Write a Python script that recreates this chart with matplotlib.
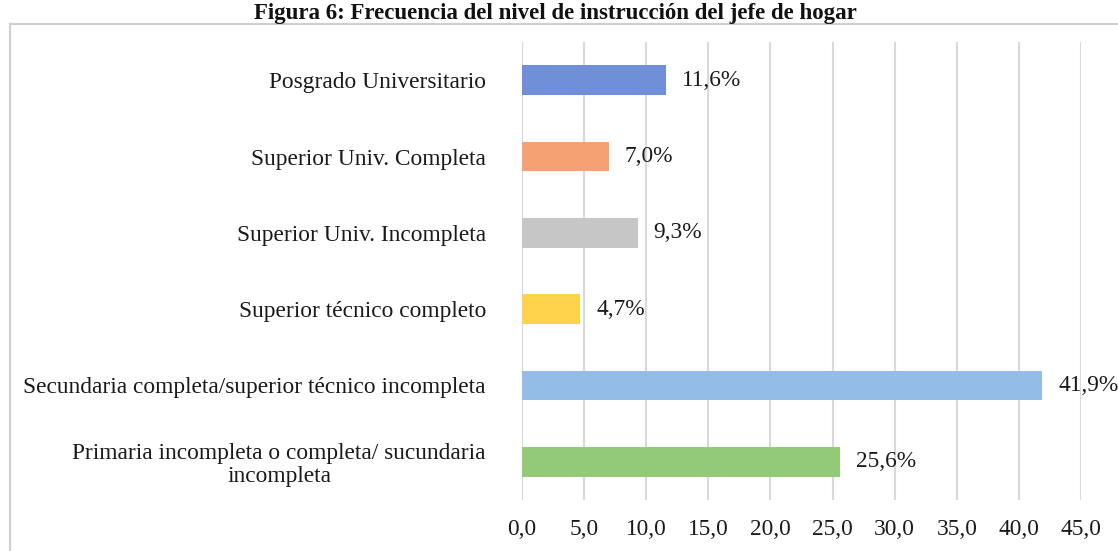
import matplotlib
matplotlib.use("Agg")
import matplotlib.pyplot as plt
from matplotlib.patches import Rectangle

categories = [
    "Posgrado Universitario",
    "Superior Univ. Completa",
    "Superior Univ. Incompleta",
    "Superior técnico completo",
    "Secundaria completa/superior técnico incompleta",
    "Primaria incompleta o completa/ sucundaria\nincompleta",
]
values = [11.6, 7.0, 9.3, 4.7, 41.9, 25.6]
value_labels = ["11,6%", "7,0%", "9,3%", "4,7%", "41,9%", "25,6%"]
colors = ["#6F90D9", "#F5A173", "#C6C6C6", "#FFD34C", "#93BCE6", "#92CA77"]
xticks = [0, 5, 10, 15, 20, 25, 30, 35, 40, 45]
xtick_labels = ["0,0", "5,0", "10,0", "15,0", "20,0", "25,0", "30,0", "35,0", "40,0", "45,0"]
title = "Figura 6: Frecuencia del nivel de instrucción del jefe de hogar"

plt.rcParams['font.family'] = ['Liberation Serif', 'DejaVu Serif']

W, H = 1118, 551
fs = 16.8
fig = plt.figure(figsize=(W / 100, H / 100), dpi=100)

# border box
fig.patches.append(Rectangle((10 / W, -0.1), 1.2, 1 - 24 / H + 0.1,
                             transform=fig.transFigure, fill=False,
                             edgecolor="#cfcfcf", linewidth=1.5))

ax = fig.add_axes([522 / W, 51 / H, 559 / W, 458 / H])
y = list(range(len(categories)))
ax.barh(y, values, height=0.39, color=colors)
ax.set_ylim(len(categories) - 0.5, -0.5)
ax.set_xlim(0, 45)
ax.set_xticks(xticks)
ax.set_xticklabels(xtick_labels, fontsize=fs)
ax.set_yticks(y)
ax.set_yticklabels(categories, fontsize=fs, multialignment="center",
                   linespacing=1.1)
ax.tick_params(axis="x", length=0, pad=14, colors="#1a1a1a")
ax.tick_params(axis="y", length=0, pad=26, colors="#1a1a1a")
for s in ax.spines.values():
    s.set_visible(False)
ax.grid(axis="x", color="#d9d9d9", linewidth=1.5)
ax.set_axisbelow(True)
ax.axvline(0, color="#d9d9d9", linewidth=1.5, zorder=0)

for yi, v, lab in zip(y, values, value_labels):
    ax.annotate(lab, xy=(v, yi), xytext=(11.5, 0), textcoords="offset points",
                va="center", ha="left", fontsize=fs, color="#1a1a1a",
                annotation_clip=False)

fig.text(555 / W, 1 - 19 / H, title, ha="center", va="baseline",
         fontsize=16.5, fontweight="bold", color="#111111")

fig.savefig("out.png", dpi=100)
